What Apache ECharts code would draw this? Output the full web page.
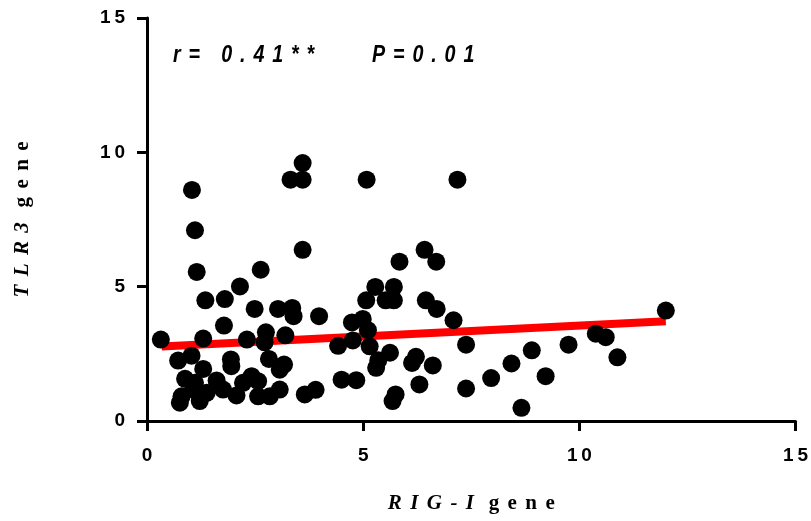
<!DOCTYPE html>
<html>
<head>
<meta charset="utf-8">
<script src="https://cdn.jsdelivr.net/npm/echarts@6/dist/echarts.min.js"></script>
<style>
html,body{margin:0;padding:0;background:#fff;}
#chart{width:811px;height:521px;}
</style>
</head>
<body>
<div id="chart"></div>
<script>
// RIG-I gene expression (x) vs TLR3 gene expression (y)
const rigI = [
  1.04, 1.11, 3.32, 3.6, 3.6, 3.6, 5.08, 7.18, 5.84, 6.42, 6.69,
  1.15, 2.63, 2.15, 1.35, 1.8, 2.49, 3.03, 3.36, 3.39, 3.98, 1.78, 0.32, 1.3, 2.31, 2.75, 2.72, 3.2, 4.42,
  0.72, 1.03, 1.3, 1.94, 1.95, 2.82, 3.17, 3.07, 0.88, 1.11, 1.61, 2.42, 2.57, 2.22, 0.8, 0.76, 1.22, 1.38, 1.07, 1.76, 2.07, 2.57, 2.84, 3.07, 3.65, 3.9,
  5.28, 5.71, 5.07, 5.52, 5.71, 6.45, 6.7, 7.09, 4.74, 4.99, 5.11, 4.76, 5.15, 7.38, 5.62, 5.35, 5.3, 6.22, 6.13, 6.61, 4.5, 4.84, 5.75, 5.68, 6.3, 7.38, 7.96,
  12.0, 10.38, 10.61, 10.88, 9.75, 8.9, 8.43, 9.22, 8.66
];
const tlr3 = [
  8.6, 7.1, 8.98, 8.98, 9.6, 6.37, 8.98, 8.98, 5.93, 6.37, 5.93,
  5.55, 5.63, 5.01, 4.49, 4.54, 4.17, 4.17, 4.21, 3.9, 3.9, 3.55, 3.03, 3.07, 3.03, 3.3, 2.93, 3.19, 2.8,
  2.25, 2.43, 1.94, 2.29, 2.04, 2.31, 2.1, 1.91, 1.57, 1.42, 1.51, 1.67, 1.48, 1.42, 0.92, 0.68, 0.74, 1.05, 1.17, 1.17, 0.95, 0.92, 0.92, 1.17, 0.99, 1.16,
  4.99, 4.99, 4.49, 4.49, 4.49, 4.49, 4.17, 3.75, 3.67, 3.8, 3.38, 3.0, 2.78, 2.84, 2.54, 2.26, 1.98, 2.39, 2.16, 2.07, 1.54, 1.52, 0.99, 0.74, 1.36, 1.21, 1.6,
  4.11, 3.25, 3.12, 2.37, 2.84, 2.63, 2.14, 1.67, 0.49
];
// regression line end points
const fitX = [0.34, 12.0];
const fitY = [2.77, 3.71];
const xTicks = [0, 5, 10, 15];
const yTicks = [0, 5, 10, 15];
const annotR = 'r= 0.41**';
const annotP = 'P=0.01';

const sp = s => s.split('').join('\u2009\u2009');
const sp1 = s => s.split('').join('\u2009');
const chart = echarts.init(document.getElementById('chart'), null, {renderer: 'canvas'});
const pts = rigI.map((x, i) => [x, tlr3[i]]);
const fit = fitX.map((x, i) => [x, fitY[i]]);
const labelFont = {fontFamily: 'Liberation Sans, Arial, sans-serif', fontWeight: 'bold', fontSize: 19, color: '#000'};
const serif = 'Liberation Serif, Times New Roman, serif';

chart.setOption({
  animation: false,
  backgroundColor: '#fff',
  grid: {left: 147, right: 14, top: 18, bottom: 100, containLabel: false},
  xAxis: {
    type: 'value', min: 0, max: 15, interval: 5,
    axisLine: {show: true, onZero: false, lineStyle: {color: '#000', width: 3}},
    axisTick: {show: true, length: 10, lineStyle: {color: '#000', width: 3}},
    splitLine: {show: false},
    axisLabel: Object.assign({margin: 25, formatter: v => xTicks.includes(v) ? sp1(String(v)) : ''}, labelFont),
    name: '{i|' + sp('RIG-I') + '}{n|\u2002\u2009' + sp('gene') + '}',
    nameLocation: 'middle', nameGap: 72,
    nameTextStyle: {
      rich: {
        i: {fontFamily: serif, fontStyle: 'italic', fontWeight: 'bold', fontSize: 21, color: '#000'},
        n: {fontFamily: serif, fontWeight: 'bold', fontSize: 21, color: '#000'}
      }
    }
  },
  yAxis: {
    type: 'value', min: 0, max: 15, interval: 5,
    axisLine: {show: true, onZero: false, lineStyle: {color: '#000', width: 3}},
    axisTick: {show: true, length: 10, lineStyle: {color: '#000', width: 3}},
    splitLine: {show: false},
    axisLabel: Object.assign({margin: 22, formatter: v => yTicks.includes(v) ? sp1(String(v)) : ''}, labelFont),
    name: '{i|' + sp('TLR3') + '}{n|\u2002\u2009' + sp('gene') + '}',
    nameLocation: 'middle', nameGap: 114, nameRotate: 90,
    nameTextStyle: {
      rich: {
        i: {fontFamily: serif, fontStyle: 'italic', fontWeight: 'bold', fontSize: 21, color: '#000'},
        n: {fontFamily: serif, fontWeight: 'bold', fontSize: 21, color: '#000'}
      }
    }
  },
  graphic: [
    {type: 'text', x: 173, y: 43, scaleX: 0.82, z: 100, style: {text: sp(annotR), font: 'italic bold 24px "Liberation Sans", Arial, sans-serif', fill: '#000'}},
    {type: 'text', x: 372, y: 43, scaleX: 0.82, z: 100, style: {text: sp(annotP), font: 'italic bold 24px "Liberation Sans", Arial, sans-serif', fill: '#000'}}
  ],
  series: [
    {
      type: 'line', data: fit, showSymbol: false, symbol: 'none', z: 1,
      lineStyle: {color: '#ff0000', width: 8, cap: 'butt'}, silent: true
    },
    {
      type: 'scatter', data: pts, symbol: 'circle', symbolSize: 18, z: 2,
      itemStyle: {color: '#000', opacity: 1}
    }
  ]
});
</script>
</body>
</html>
